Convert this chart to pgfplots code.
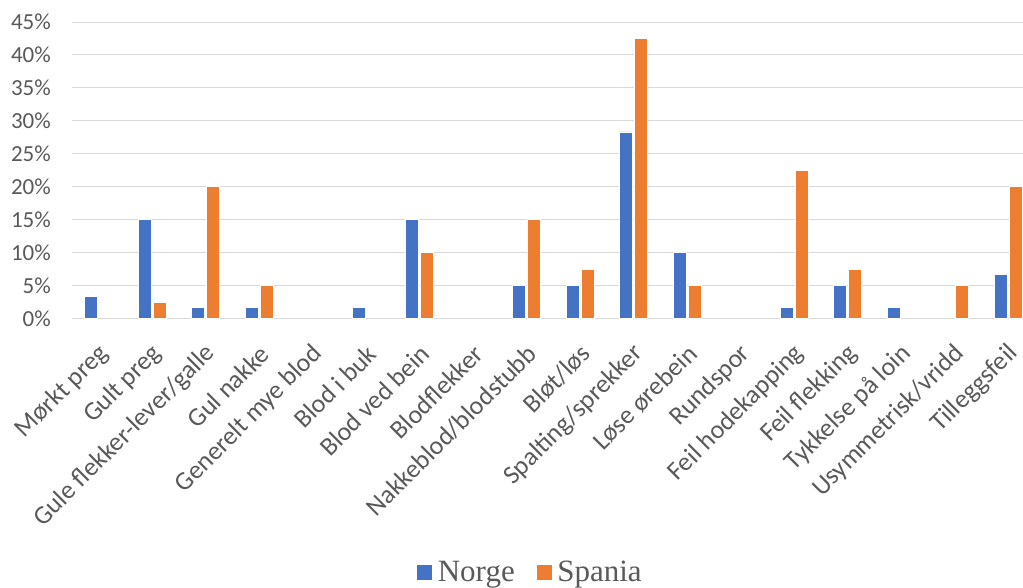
\documentclass[border=0pt]{standalone}
\usepackage{pgfplots}
\pgfplotsset{compat=1.18}
\usepackage{fontspec}
\setmainfont{Carlito}
\newfontfamily\legfont{Liberation Serif}
\definecolor{norge}{HTML}{4472C4}
\definecolor{spania}{HTML}{ED7D31}
\definecolor{txt}{HTML}{595959}
\definecolor{gridc}{HTML}{D9D9D9}
\begin{document}
\begin{tikzpicture}[x=1pt,y=1pt]
\path[use as bounding box] (-72,-268.5) rectangle (951,318.5);
\begin{axis}[
  at={(0,0)}, anchor=south west,
  scale only axis, width=951pt, height=296.5pt,
  xmin=-0.5, xmax=17.276, ymin=0, ymax=45,
  ybar, bar width=13pt,
  axis line style={draw=none},
  major tick length=0pt,
  ymajorgrids, major grid style={draw=gridc, line width=1pt},
  ytick={0,5,...,45},
  yticklabel={\pgfmathprintnumber{\tick}\%},
  /pgf/number format/assume math mode=true,
  yticklabel style={anchor=east, inner sep=0pt, xshift=-21pt, font=\fontsize{23}{26}\selectfont, text=txt},
  xtick={0,...,17},
  xticklabels={Mørkt preg, Gult preg, Gule flekker-lever/galle, Gul nakke, Generelt mye blod, Blod i buk, Blod ved bein, Blodflekker, Nakkeblod/blodstubb, Bløt/løs, Spalting/sprekker, Løse ørebein, Rundspor, Feil hodekapping, Feil flekking, Tykkelse på loin, Usymmetrisk/vridd, Tilleggsfeil},
  xticklabel style={rotate=45, anchor=east, inner sep=0pt, xshift=-18pt, yshift=-26pt, font=\fontsize{26}{28}\selectfont, text=txt},
  legend style={at={(0.4816,-0.855)}, anchor=center, draw=none, fill=none,
    legend columns=2, font=\legfont\fontsize{31}{33}\selectfont, text=txt,
    /tikz/every odd column/.append style={column sep=3pt},
    /tikz/every even column/.append style={column sep=19pt}},
  legend image code/.code={\fill[#1] (0pt,-8pt) rectangle (16pt,8pt);},
]
\addplot[fill=norge, draw=white, line width=0.5pt, bar shift=-7.5pt] coordinates {
  (0,3.33) (1,15) (2,1.67) (3,1.67) (5,1.67) (6,15) (8,5) (9,5)
  (10,28.33) (11,10) (13,1.67) (14,5) (15,1.67) (17,6.67)};
\addlegendentry{Norge}
\addplot[fill=spania, draw=white, line width=0.5pt, bar shift=7.5pt] coordinates {
  (1,2.5) (2,20) (3,5) (6,10) (8,15) (9,7.5) (10,42.5) (11,5)
  (13,22.5) (14,7.5) (16,5) (17,20)};
\addlegendentry{Spania}
\end{axis}
\end{tikzpicture}
\end{document}
